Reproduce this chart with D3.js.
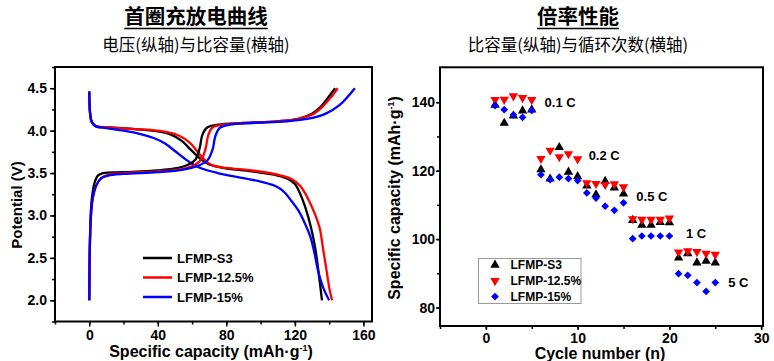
<!DOCTYPE html>
<html>
<head>
<meta charset="utf-8">
<script src="https://cdn.jsdelivr.net/npm/d3@7"></script>
<style>
  body { margin: 0; background: #fff; }
  svg text { font-family: "Liberation Sans", Arial, sans-serif; }
  .cjk { font-family: "Noto Sans CJK SC", sans-serif; }
</style>
</head>
<body>
<div id="display"></div>
<script>
// ---- data: first charge / discharge curves [capacity, potential]
const seriesNames = ['LFMP-S3', 'LFMP-12.5%', 'LFMP-15%'];
const seriesColors = ['#000000', '#ff0000', '#0000ff'];

const chargeS3 = [[0, 2.0], [0.3, 2.6], [0.8, 3.0], [1.5, 3.2], [3, 3.38], [5, 3.47], [8, 3.5],
  [20, 3.51], [40, 3.53], [52, 3.56], [58, 3.6], [62, 3.66], [64.5, 3.8], [66, 3.95],
  [69, 4.04], [75, 4.07], [90, 4.09], [110, 4.11], [122, 4.14], [130, 4.2], [135, 4.28],
  [139, 4.38], [143.5, 4.5]];
const charge125 = [[0, 2.0], [0.3, 2.6], [1, 3.0], [2, 3.2], [4, 3.35], [7, 3.44], [11, 3.48],
  [20, 3.5], [40, 3.52], [55, 3.55], [62, 3.6], [66, 3.68], [68, 3.8], [69.5, 3.95],
  [72, 4.04], [78, 4.07], [90, 4.09], [110, 4.11], [122, 4.14], [131, 4.2], [136, 4.28],
  [140.5, 4.38], [145, 4.5]];
const charge15 = [[0, 2.0], [0.3, 2.6], [1, 3.0], [2, 3.2], [4, 3.35], [7, 3.44], [11, 3.47],
  [20, 3.49], [40, 3.51], [55, 3.54], [64, 3.59], [69, 3.65], [72, 3.78], [73.5, 3.93],
  [76, 4.03], [82, 4.07], [95, 4.09], [115, 4.11], [128, 4.14], [138, 4.2], [146, 4.3],
  [155, 4.5]];

const dischargeS3 = [[0, 4.46], [0.5, 4.2], [1.5, 4.1], [4, 4.05], [10, 4.04], [25, 4.02],
  [40, 3.99], [48, 3.95], [54, 3.88], [58, 3.8], [62, 3.72], [66, 3.65], [70, 3.6],
  [78, 3.56], [95, 3.52], [110, 3.47], [116, 3.43], [120, 3.37], [123, 3.26], [126, 3.1],
  [129.5, 2.85], [132, 2.6], [134, 2.3], [135.8, 2.0]];
const discharge125 = [[0, 4.46], [0.5, 4.2], [1.5, 4.1], [4, 4.05], [10, 4.04], [25, 4.02],
  [40, 4.0], [50, 3.96], [56, 3.9], [60, 3.83], [64, 3.73], [68, 3.64], [72, 3.59],
  [80, 3.56], [95, 3.53], [110, 3.48], [118, 3.43], [123, 3.35], [126, 3.26], [129, 3.14],
  [132, 3.0], [134.5, 2.85], [136.5, 2.6], [138.5, 2.35], [140.3, 2.12], [141.7, 2.0]];
const discharge15 = [[0, 4.46], [0.5, 4.2], [1.5, 4.1], [4, 4.05], [10, 4.03], [20, 4.0],
  [30, 3.96], [38, 3.91], [44, 3.85], [50, 3.76], [55, 3.68], [60, 3.61], [66, 3.55],
  [75, 3.5], [90, 3.44], [100, 3.4], [107, 3.36], [111, 3.32], [114, 3.27], [118, 3.17],
  [122, 3.06], [126, 2.9], [129, 2.75], [131.5, 2.55], [133.5, 2.35], [136.5, 2.15],
  [140, 2.0]];

// ---- data: rate performance
const cycles = d3.range(1, 26);
const rateS3 = [139.2, 133.9, 136.0, 137.5, 137.8, 120.3, 117.6, 126.8, 119.6, 118.3,
  115.6, 113.0, 116.9, 115.0, 113.2, 105.5, 104.1, 104.1, 104.9, 104.8,
  94.5, 95.8, 93.1, 93.6, 93.1];
const rate125 = [140.7, 140.8, 141.8, 141.3, 140.7, 123.5, 125.9, 124.0, 124.9, 123.4,
  116.4, 116.2, 115.9, 116.1, 115.2, 105.9, 105.7, 105.7, 105.7, 106.1,
  96.2, 96.5, 96.3, 95.8, 95.5];
const rate15 = [139.0, 137.8, 136.3, 135.6, 137.6, 118.8, 117.4, 118.1, 117.7, 117.1,
  113.5, 112.0, 109.6, 108.4, 110.6, 100.1, 100.9, 100.9, 100.9, 100.9,
  89.9, 89.4, 87.3, 84.7, 87.3];
const rateLabels = ['0.1 C', '0.2 C', '0.5 C', '1 C', '5 C'];
const rateLabelX = [6.4, 11.2, 16.4, 21.8, 26.4];
const rateLabelY = [140, 124.4, 112.4, 101.6, 87.3];

const leftYTicks = [2.0, 2.5, 3.0, 3.5, 4.0, 4.5];
const leftXTicks = [0, 40, 80, 120, 160];
const rightYTicks = [80, 100, 120, 140];
const rightXTicks = [0, 10, 20, 30];

const svg = d3.select('#display').append('svg')
    .attr('width', 774)
    .attr('height', 361);

// ---- titles
function title(cx, main, sub) {
  const t = svg.append('text').attr('class', 'cjk')
      .attr('x', cx).attr('y', 23.5)
      .attr('text-anchor', 'middle')
      .style('font-size', '20.5px').style('font-weight', 'bold')
      .text(main);
  const w = t.node().getComputedTextLength();
  svg.append('line')
      .attr('x1', cx - w / 2).attr('x2', cx + w / 2)
      .attr('y1', 28.5).attr('y2', 28.5)
      .attr('stroke', '#000').attr('stroke-width', 1.6);
  svg.append('text').attr('class', 'cjk')
      .attr('x', cx).attr('y', 50.5)
      .attr('text-anchor', 'middle')
      .style('font-size', '16.5px')
      .text(sub);
}
title(196, '首圈充放电曲线', '电压(纵轴)与比容量(横轴)');
title(578, '倍率性能', '比容量(纵轴)与循环次数(横轴)');

function styleAxis(g, size) {
  g.select('.domain').remove();
  g.selectAll('line').attr('stroke', '#000').attr('stroke-width', 1.5);
  g.selectAll('text').style('font-size', size + 'px').style('font-weight', 'bold')
      .attr('fill', '#000');
}

// ---- left chart
const xL = d3.scaleLinear().domain([-20, 165]).range([55, 372]);
const yL = d3.scaleLinear().domain([1.75, 4.75]).range([321.5, 67]);

const gl = svg.append('g');
gl.append('g').attr('transform', 'translate(55,0)')
    .call(d3.axisLeft(yL).tickValues(d3.range(1.75, 4.76, 0.25)).tickSize(3).tickFormat(''))
    .call((g) => styleAxis(g, 14));
gl.append('g').attr('transform', 'translate(55,0)')
    .call(d3.axisLeft(yL).tickValues(leftYTicks).tickSize(5).tickPadding(3)
        .tickFormat(d3.format('.1f')))
    .call((g) => styleAxis(g, 14));
gl.append('g').attr('transform', 'translate(0,321.5)')
    .call(d3.axisBottom(xL).tickValues(d3.range(-20, 161, 20)).tickSize(3).tickFormat(''))
    .call((g) => styleAxis(g, 14));
gl.append('g').attr('transform', 'translate(0,321.5)')
    .call(d3.axisBottom(xL).tickValues(leftXTicks).tickSize(5).tickPadding(3.5))
    .call((g) => styleAxis(g, 14));

const line = d3.line()
    .x((d) => xL(d[0]))
    .y((d) => yL(d[1]))
    .curve(d3.curveCatmullRom.alpha(0.5));

const curves = [
  [dischargeS3, 0], [discharge125, 1], [discharge15, 2],
  [chargeS3, 0], [charge125, 1], [charge15, 2],
];
gl.selectAll('path.curve')
    .data(curves)
    .enter()
    .append('path')
    .attr('class', 'curve')
    .attr('d', (d) => line(d[0]))
    .attr('fill', 'none')
    .attr('stroke', (d) => seriesColors[d[1]])
    .attr('stroke-width', 2.3);

gl.append('rect')
    .attr('x', 55).attr('y', 67)
    .attr('width', 317).attr('height', 254.5)
    .attr('fill', 'none').attr('stroke', '#000').attr('stroke-width', 2);

const legL = gl.selectAll('g.leg').data(seriesNames).enter()
    .append('g').attr('class', 'leg')
    .attr('transform', (d, i) => 'translate(143,' + (258 + i * 19.5) + ')');
legL.append('line')
    .attr('x1', 0).attr('x2', 29)
    .attr('stroke', (d, i) => seriesColors[i]).attr('stroke-width', 2.5);
legL.append('text')
    .attr('x', 34).attr('dy', '0.35em')
    .style('font-size', '13px').style('font-weight', 'bold')
    .text((d) => d);

gl.append('text')
    .attr('transform', 'translate(22,205) rotate(-90)')
    .attr('text-anchor', 'middle')
    .style('font-size', '15px').style('font-weight', 'bold')
    .text('Potential (V)');
const xtL = gl.append('text')
    .attr('x', 211).attr('y', 357)
    .attr('text-anchor', 'middle')
    .style('font-size', '16px').style('font-weight', 'bold');
xtL.append('tspan').text('Specific capacity (mAh·g');
xtL.append('tspan').attr('dy', -6).style('font-size', '9px').text('-1');
xtL.append('tspan').attr('dy', 6).text(')');

// ---- right chart
const xR = d3.scaleLinear().domain([-5, 30.2]).range([440, 763]);
const yR = d3.scaleLinear().domain([74.6, 150.2]).range([326, 67.3]);

const gr = svg.append('g');
gr.append('g').attr('transform', 'translate(440,0)')
    .call(d3.axisLeft(yR).tickValues(d3.range(80, 150, 10)).tickSize(3).tickFormat(''))
    .call((g) => styleAxis(g, 14));
gr.append('g').attr('transform', 'translate(440,0)')
    .call(d3.axisLeft(yR).tickValues(rightYTicks).tickSize(4).tickPadding(1))
    .call((g) => styleAxis(g, 14));
gr.append('g').attr('transform', 'translate(0,326)')
    .call(d3.axisBottom(xR).tickValues(d3.range(-5, 31, 5)).tickSize(3).tickFormat(''))
    .call((g) => styleAxis(g, 14));
gr.append('g').attr('transform', 'translate(0,326)')
    .call(d3.axisBottom(xR).tickValues(rightXTicks).tickSize(4).tickPadding(3))
    .call((g) => styleAxis(g, 14));

const symbols = [
  d3.symbol().type(d3.symbolTriangle).size(38),
  d3.symbol().type(d3.symbolTriangle).size(38),
  d3.symbol().type(d3.symbolSquare).size(30),
];
const rotations = [0, 180, 45];
const rateSeries = [rateS3, rate125, rate15];

rateSeries.forEach((vals, s) => {
  gr.append('g').selectAll('path')
      .data(vals)
      .enter()
      .append('path')
      .attr('d', symbols[s])
      .attr('transform', (d, i) => 'translate(' + xR(cycles[i]) + ',' + yR(d) +
          ') rotate(' + rotations[s] + ')')
      .attr('fill', seriesColors[s]);
});

gr.selectAll('text.rate')
    .data(rateLabels)
    .enter()
    .append('text')
    .attr('class', 'rate')
    .attr('x', (d, i) => xR(rateLabelX[i]))
    .attr('y', (d, i) => yR(rateLabelY[i]))
    .attr('dy', '0.35em')
    .style('font-size', '13px').style('font-weight', 'bold')
    .text((d) => d);

gr.append('rect')
    .attr('x', 440).attr('y', 67.3)
    .attr('width', 323).attr('height', 258.7)
    .attr('fill', 'none').attr('stroke', '#000').attr('stroke-width', 2);

gr.append('rect')
    .attr('x', 478.5).attr('y', 258.5)
    .attr('width', 102.5).attr('height', 45)
    .attr('fill', 'none').attr('stroke', '#999').attr('stroke-width', 1);
const legR = gr.selectAll('g.legr').data(seriesNames).enter()
    .append('g').attr('class', 'legr')
    .attr('transform', (d, i) => 'translate(495,' + (265 + i * 15.8) + ')');
legR.append('path')
    .attr('d', (d, i) => symbols[i]())
    .attr('transform', (d, i) => 'rotate(' + rotations[i] + ')')
    .attr('fill', (d, i) => seriesColors[i]);
legR.append('text')
    .attr('x', 15.5).attr('dy', '0.35em')
    .style('font-size', '12px').style('font-weight', 'bold')
    .text((d) => d);

const ytR = gr.append('text')
    .attr('transform', 'translate(400,198) rotate(-90)')
    .attr('text-anchor', 'middle')
    .style('font-size', '16px').style('font-weight', 'bold');
ytR.append('tspan').text('Specific capacity (mAh·g');
ytR.append('tspan').attr('dy', -6).style('font-size', '9px').text('-1');
ytR.append('tspan').attr('dy', 6).text(')');

gr.append('text')
    .attr('x', 600).attr('y', 359)
    .attr('text-anchor', 'middle')
    .style('font-size', '16px').style('font-weight', 'bold')
    .text('Cycle number (n)');
</script>
</body>
</html>
